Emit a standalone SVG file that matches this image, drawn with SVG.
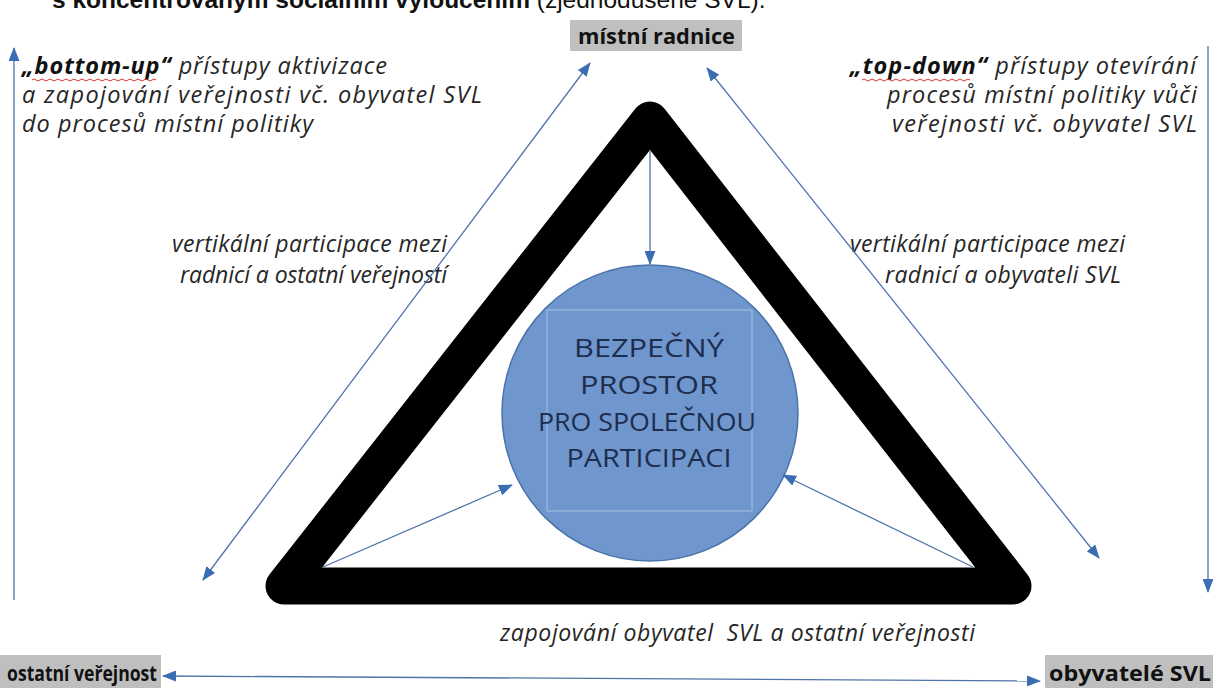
<svg xmlns="http://www.w3.org/2000/svg" width="1213" height="688" viewBox="0 0 1213 688">
<style>
.it{font-family:"Open Sans","Liberation Sans",sans-serif;font-style:italic;font-size:23.5px;fill:#262626}
.mid{font-family:"Open Sans","Liberation Sans",sans-serif;font-style:italic;font-size:23px;fill:#262626}
.bi{font-weight:bold;fill:#111}
.lbl{font-family:"Open Sans","Liberation Sans",sans-serif;font-weight:bold;font-size:21px;fill:#111}
.box{fill:#bfbfbf}
.ctr{font-family:"Open Sans","Liberation Sans",sans-serif;font-size:25px;fill:#1e2d4d;text-anchor:middle}
.ar{stroke:#4f74a8;stroke-width:1.3;fill:none}
.wave{stroke:#d33;stroke-width:1;fill:none}
</style>
<defs>
<marker id="ah" viewBox="0 0 14 11" refX="13" refY="5.5" markerWidth="14" markerHeight="11" markerUnits="userSpaceOnUse" orient="auto-start-reverse">
<path d="M0,0 L14,5.5 L0,11 z" fill="#3b6db3"/>
</marker>
</defs>
<rect width="1213" height="688" fill="#fff"/>

<g id="title">
<text x="52" y="8" style="font-family:'Liberation Sans',Arial,sans-serif;font-size:24.5px;fill:#111"><tspan font-weight="bold">s koncentrovaným sociálním vyloučením</tspan> (zjednodušeně SVL).</text>
</g>

<g id="triangle">
<polygon points="650,120 284,586 1013,586" fill="none" stroke="#000" stroke-width="37" stroke-linejoin="round"/>
</g>

<g id="node-prostor">
<circle cx="650" cy="413" r="148" fill="#6f97cd" stroke="#4a73a9" stroke-width="1.5"/>
<rect x="547" y="310" width="205" height="201" fill="none" stroke="#a9c1e3" stroke-width="1"/>
<text class="ctr" x="649" y="357" textLength="150" lengthAdjust="spacingAndGlyphs">BEZPEČNÝ</text>
<text class="ctr" x="649" y="394" textLength="138" lengthAdjust="spacingAndGlyphs">PROSTOR</text>
<text class="ctr" x="647" y="431" textLength="218" lengthAdjust="spacingAndGlyphs">PRO SPOLEČNOU</text>
<text class="ctr" x="649" y="467" textLength="165" lengthAdjust="spacingAndGlyphs">PARTICIPACI</text>
</g>

<g id="node-radnice">
<rect class="box" x="570" y="20" width="172" height="31"/>
<text class="lbl" x="578" y="44" textLength="157" lengthAdjust="spacingAndGlyphs">místní radnice</text>
</g>

<g id="node-verejnost">
<rect class="box" x="0" y="655" width="161" height="33"/>
<text class="lbl" x="7" y="681" textLength="150" lengthAdjust="spacingAndGlyphs">ostatní veřejnost</text>
</g>

<g id="node-svl">
<rect class="box" x="1045" y="655" width="168" height="33"/>
<text class="lbl" x="1049" y="681" textLength="162" lengthAdjust="spacingAndGlyphs">obyvatelé SVL</text>
</g>

<g id="label-bottom-up">
<text class="it" x="22" y="74" textLength="365"><tspan class="bi">„bottom-up“</tspan> přístupy aktivizace</text>
<text class="it" x="22" y="103" textLength="460">a zapojování veřejnosti vč. obyvatel SVL</text>
<text class="it" x="22" y="132" textLength="291">do procesů místní politiky</text>
<path class="wave" d="M32,80 q2,-2 4,0 t4,0 t4,0 t4,0 t4,0 t4,0 t4,0 t4,0 t4,0 t4,0 t4,0 t4,0 t4,0 t4,0 t4,0 t4,0 t4,0 t4,0 t4,0 t4,0 t4,0 t4,0 t4,0 t4,0 t4,0 t4,0 t4,0 t4,0 t4,0 t4,0 t4,0"/>
</g>

<g id="label-top-down">
<text class="it" x="1196" y="74" text-anchor="end" textLength="346"><tspan class="bi">„top-down“</tspan> přístupy otevírání</text>
<text class="it" x="1197" y="103" text-anchor="end" textLength="310">procesů místní politiky vůči</text>
<text class="it" x="1197" y="132" text-anchor="end" textLength="305">veřejnosti vč. obyvatel SVL</text>
<path class="wave" d="M862,80 q2,-2 4,0 t4,0 t4,0 t4,0 t4,0 t4,0 t4,0 t4,0 t4,0 t4,0 t4,0 t4,0 t4,0 t4,0 t4,0 t4,0 t4,0 t4,0 t4,0 t4,0 t4,0 t4,0 t4,0 t4,0 t4,0 t4,0 t4,0"/>
</g>

<g id="label-left-vertical">
<text class="mid" x="447" y="252" text-anchor="end" textLength="275">vertikální participace mezi</text>
<text class="mid" x="447" y="283" text-anchor="end" textLength="267">radnicí a ostatní veřejností</text>
</g>

<g id="label-right-vertical">
<text class="mid" x="850" y="252" textLength="275">vertikální participace mezi</text>
<text class="mid" x="885" y="283" textLength="236">radnicí a obyvateli SVL</text>
</g>

<g id="label-bottom">
<text class="mid" x="500" y="641" textLength="475" style="white-space:pre">zapojování obyvatel  SVL a ostatní veřejnosti</text>
</g>

<g id="connectors">
<line class="ar" x1="650" y1="150" x2="650" y2="264" marker-end="url(#ah)"/>
<line class="ar" x1="323" y1="567" x2="512" y2="485" marker-end="url(#ah)"/>
<line class="ar" x1="973" y1="567" x2="783" y2="475" marker-end="url(#ah)"/>
<line class="ar" x1="203" y1="580" x2="590" y2="63" marker-start="url(#ah)" marker-end="url(#ah)"/>
<line class="ar" x1="707" y1="68" x2="1099" y2="558" marker-start="url(#ah)" marker-end="url(#ah)"/>
<line class="ar" x1="14" y1="600" x2="14" y2="48" marker-end="url(#ah)"/>
<line class="ar" x1="1208" y1="46" x2="1208" y2="592" marker-end="url(#ah)"/>
<line class="ar" x1="163" y1="676" x2="1040" y2="681" marker-start="url(#ah)" marker-end="url(#ah)"/>
</g>
</svg>
